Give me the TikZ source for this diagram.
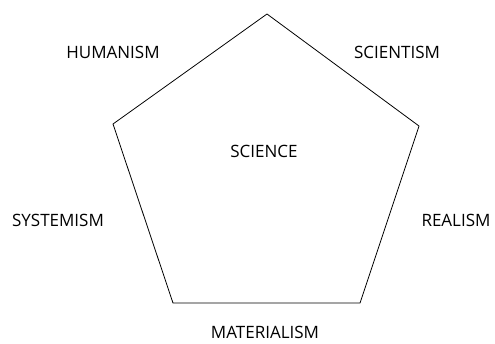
\documentclass[tikz,border=0pt]{standalone}
\usepackage{fontspec}
\setmainfont{Open Sans}
\begin{document}
\begin{tikzpicture}[x=1pt, y=-1pt, thick,
  label/.style={font=\fontsize{17}{20}\selectfont, inner sep=0pt}]
  \useasboundingbox (0,0) rectangle (495,343);
  \coordinate (T) at (267,14);
  \coordinate (R) at (419,126);
  \coordinate (BR) at (360,303);
  \coordinate (BL) at (173,303);
  \coordinate (L) at (113,124);
  \draw[line width=0.8pt] (T) -- (R) -- (BR) -- (BL) -- (L) -- cycle;
  \node[label] (hum) at (113,52) {HUMANISM};
  \node[label] (sci) at (397,52) {SCIENTISM};
  \node[label] (sys) at (58,220) {SYSTEMISM};
  \node[label] (rea) at (456,220) {REALISM};
  \node[label] (mat) at (265,332) {MATERIALISM};
  \node[label] (center) at (264,151) {SCIENCE};
\end{tikzpicture}
\end{document}
